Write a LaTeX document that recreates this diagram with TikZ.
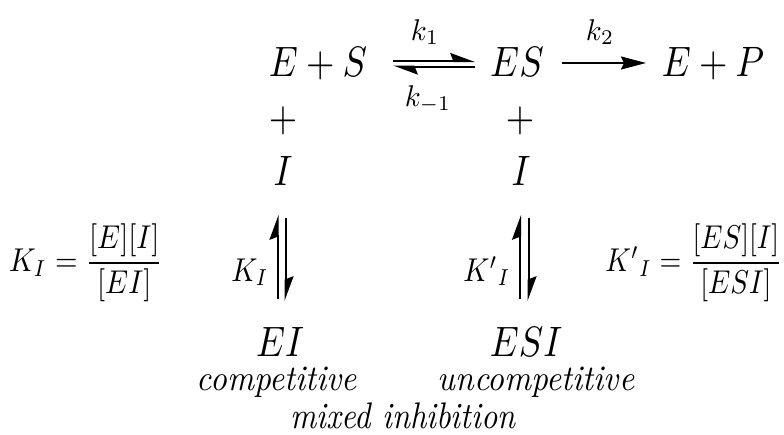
\RequirePackage{fix-cm}
\documentclass[tikz,border=0pt]{standalone}
\usetikzlibrary{arrows.meta}
% #1 horizontal factor, #2 vertical factor (text set at 10pt, then scaled)
\newcommand\sbx[3]{\scalebox{#1}[#2]{#3}}
\begin{document}
\begin{tikzpicture}[x=1pt,y=-1pt,
  txt/.style={inner sep=0pt, anchor=base},
  form/.style={inner sep=0pt, anchor=center},
  harp/.style={line width=2pt, -{Stealth[harpoon, length=22pt, width=16pt, inset=3pt]}},
  react/.style={line width=2.2pt, -{Stealth[length=25pt, width=13pt, inset=3pt]}}]
\useasboundingbox (0,0) rectangle (784,434);

% top row
\node[txt] (ES0) at (318,76) {\sbx{3.65}{4.25}{$E+S$}};
\node[txt] (ESc) at (517,76) {\sbx{3.65}{4.25}{$ES$}};
\node[txt] (EP) at (713,76) {\sbx{3.65}{4.25}{$E+P$}};
\node[txt] (k1) at (425,40) {\sbx{2.9}{3.0}{$k_1$}};
\node[txt] (km1) at (428,106) {\sbx{2.9}{3.0}{$k_{-1}$}};
\node[txt] (k2) at (600,40) {\sbx{2.9}{3.0}{$k_2$}};

\coordinate (h1s) at (393,61);
\coordinate (h1e) at (475,61);
\coordinate (h2s) at (475,66.5);
\coordinate (h2e) at (393,66.5);
\draw[harp] (h1s) -- (h1e);
\draw[harp] (h2s) -- (h2e);
\coordinate (r1s) at (562,63);
\coordinate (r1e) at (646,63);
\draw[react] (r1s) -- (r1e);

% plus and inhibitor
\node[txt] (p1) at (283,131) {\sbx{3.65}{4.25}{$+$}};
\node[txt] (p2) at (520,131) {\sbx{3.65}{4.25}{$+$}};
\node[txt] (I1) at (283,185) {\sbx{3.65}{4.25}{$I$}};
\node[txt] (I2) at (521,185) {\sbx{3.65}{4.25}{$I$}};

% vertical equilibria
\coordinate (v1s) at (277.5,299);
\coordinate (v1e) at (277.5,215);
\coordinate (v2s) at (285.5,218);
\coordinate (v2e) at (285.5,301);
\draw[harp] (v1s) -- (v1e);
\draw[harp] (v2s) -- (v2e);
\coordinate (v3s) at (520,299);
\coordinate (v3e) at (520,215);
\coordinate (v4s) at (528.5,218);
\coordinate (v4e) at (528.5,301);
\draw[harp] (v3s) -- (v3e);
\draw[harp] (v4s) -- (v4e);

\node[txt] (KI) at (250,281) {\sbx{2.85}{3.3}{$K_I$}};
\node[txt] (KpI) at (487,281) {\sbx{2.85}{3.3}{${K'}_I$}};

% dissociation constants
\node[form] (fl) at (86,263) {\sbx{2.9}{3.3}{$K_I=\displaystyle\frac{[E][I]}{[EI]}$}};
\node[form] (fr) at (694,263) {\sbx{2.8}{3.3}{${K'}_I=\displaystyle\frac{[ES][I]}{[ESI]}$}};

% complexes
\node[txt] (EI) at (280,356) {\sbx{3.65}{4.25}{$EI$}};
\node[txt] (ESI) at (526,356) {\sbx{3.65}{4.25}{$ESI$}};
\node[txt] (comp) at (277,390) {\sbx{3.3}{3.6}{\itshape competitive}};
\node[txt] (uncomp) at (536,390) {\sbx{3.3}{3.6}{\itshape uncompetitive}};
\node[txt] (mixed) at (403,428) {\sbx{3.2}{3.7}{\itshape mixed inhibition}};
\end{tikzpicture}
\end{document}
